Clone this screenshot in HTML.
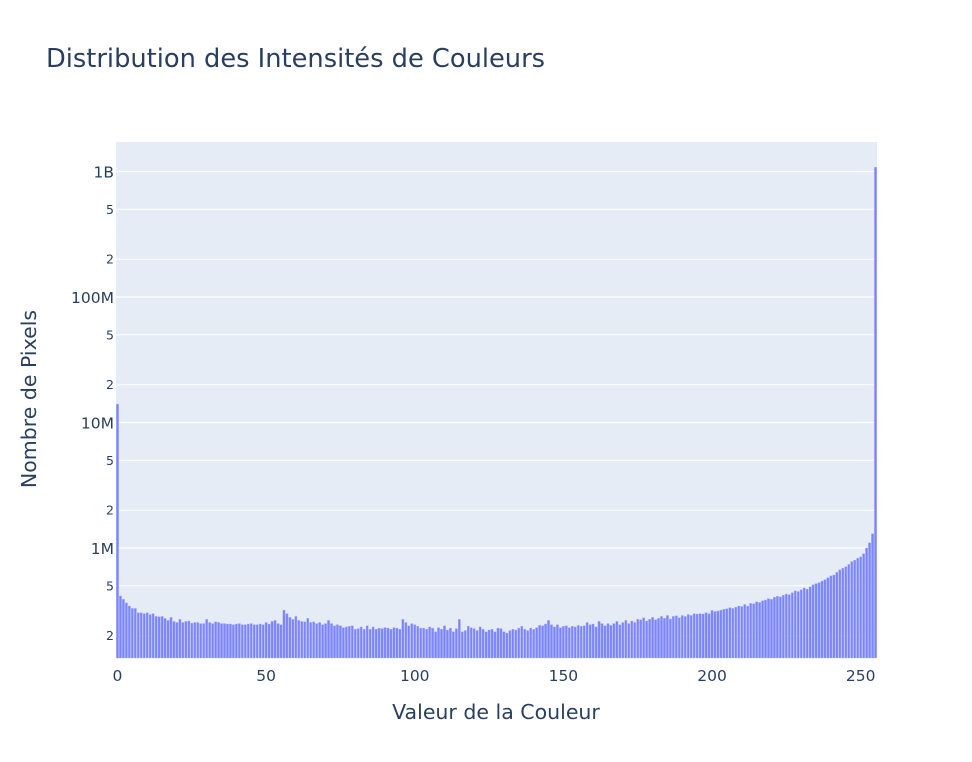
<!DOCTYPE html>
<html><head><meta charset="utf-8"><style>
body{margin:0;background:#fff;font-family:"DejaVu Sans","Liberation Sans",sans-serif}
svg{display:block}
text{font-family:"DejaVu Sans","Liberation Sans",sans-serif}
</style></head><body>
<svg id="chart" width="972" height="762">
<rect width="972" height="762" fill="#fff"/>
<text x="46" y="67" font-size="25.7" fill="#2a3f5f">Distribution des Intensités de Couleurs</text>
<rect x="116" y="142" width="761" height="516" fill="#e5ecf6"/>
<g id="grid"></g><g id="bars"></g><g id="ticks"></g>
<text x="496" y="719" font-size="20.5" fill="#2a3f5f" text-anchor="middle">Valeur de la Couleur</text>
<text transform="translate(36,399) rotate(-90)" font-size="20.5" fill="#2a3f5f" text-anchor="middle">Nombre de Pixels</text>
</svg>
<script>
const counts = [14000,
415,390,365,345,330,330,305,305,300,305,
295,300,285,283,285,275,265,280,260,255,
270,255,260,262,252,255,255,250,250,270,
255,250,258,255,250,250,248,248,245,248,
250,245,245,248,250,245,245,248,245,255,
248,260,265,250,245,
320,300,280,270,285,
265,260,258,275,255,258,250,255,245,250,
265,250,240,245,240,232,235,238,240,225,
228,235,225,240,225,235,225,230,228,232,
230,225,232,230,225,270,255,240,250,245,
238,230,230,225,235,230,215,232,225,240,
222,230,215,228,270,215,220,238,232,228,
220,235,225,215,222,225,215,230,228,215,
210,220,225,222,230,238,225,220,230,225,
232,242,240,248,265,245,235,245,232,238,
240,232,238,235,242,238,240,255,245,248,
235,260,250,240,250,242,250,260,245,255,
265,250,262,255,270,268,278,262,270,280,
268,275,285,275,290,272,285,288,278,290,
285,295,290,300,298,300,298,305,300,318,
312,315,320,325,328,335,330,338,345,342,
355,345,362,360,372,368,380,385,395,390,
405,412,408,420,430,425,440,455,450,465,
480,470,490,510,520,530,545,560,580,600,
610,640,670,690,710,740,780,800,830,850,
900,1000,1100,1300,1080000]; // thousands
const xTicks = [0,50,100,150,200,250];
const yMajor = [1e6,1e7,1e8,1e9];
const yMajorLabels = ["1M","10M","100M","1B"];
const yMinorMult = [2,5];
const NS="http://www.w3.org/2000/svg";
const X0=116, X1=877, Y0=142, Y1=658;
const xmin=-0.5, xmax=255.5;
const xs = v => X0 + (v - xmin) / (xmax - xmin) * (X1 - X0);
const ys = v => 548 - (Math.log10(v) - 6) * 125.5;
function mk(tag, attrs, parent){const e=document.createElementNS(NS,tag);for(const k in attrs)e.setAttribute(k,attrs[k]);parent.appendChild(e);return e;}
const grid=document.getElementById('grid'), bars=document.getElementById('bars'), ticks=document.getElementById('ticks');
const gridVals=[];
[1e5,1e6,1e7,1e8,1e9].forEach(d=>{yMinorMult.forEach(m=>gridVals.push([d*m,String(m),false]));});
yMajor.forEach((v,i)=>gridVals.push([v,yMajorLabels[i],true]));
gridVals.forEach(([v,lab,maj])=>{
  const y=ys(v); if(y<Y0||y>Y1) return;
  const l=mk('line',{x1:X0,x2:X1,y1:y,y2:y,stroke:'#fff','stroke-width':maj?1.3:1},grid);
  
  
  const t=mk('text',{x:114,y:y+(maj?6:4.5),'font-size':maj?15.5:12.5,fill:'#2a3f5f','text-anchor':'end'},ticks);
  t.textContent=lab;
  
  
});
const bw=(X1-X0)/256;
counts.forEach((c,i)=>{
  const y=ys(c*1000);
  const r=mk('rect',{x:xs(i)-bw*0.38,y:y,width:bw*0.76,height:Y1-y,fill:'#7b85f9',stroke:'#a9b0fb','stroke-width':0.4},bars);
  
  
});
xTicks.forEach(v=>{
  const t=mk('text',{x:xs(v),y:681,'font-size':15.5,fill:'#2a3f5f','text-anchor':'middle'},ticks);
  t.textContent=v;
  
  
});
</script>
</body></html>
